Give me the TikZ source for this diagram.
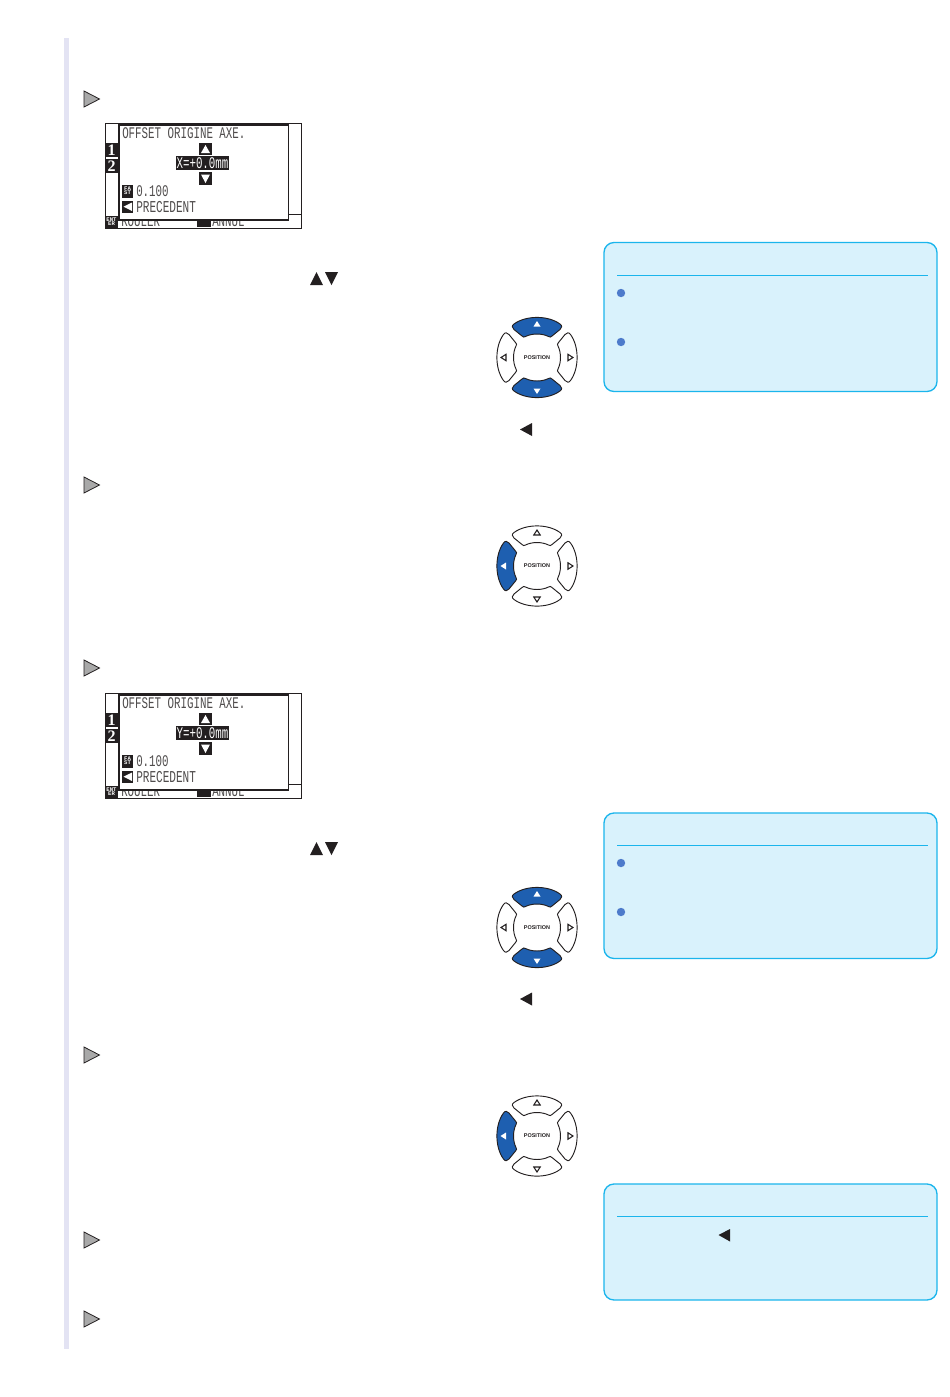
\documentclass[tikz,border=0pt]{standalone}
\usepackage{fontspec}
\setmainfont{Liberation Sans}
\newfontfamily\lcdfont{Liberation Mono}
\newfontfamily\tabfont{Liberation Serif}
\definecolor{barc}{HTML}{E3E3F3}
\definecolor{noteb}{HTML}{D9F2FC}
\definecolor{notel}{HTML}{1BB5EC}
\definecolor{dotc}{HTML}{4D7BCB}
\definecolor{padc}{HTML}{1E5FB0}
\definecolor{markc}{HTML}{A9A9A9}
\definecolor{inkc}{HTML}{231F20}
\tikzset{
  markerarrow/.style={draw=inkc,line width=0.6pt,fill=markc},
  inkfill/.style={fill=inkc,draw=none},
  notebox/.style={draw=notel,line width=1pt,fill=noteb,rounded corners=7.5pt},
  noterule/.style={draw=notel,line width=0.6pt},
  notedot/.style={fill=dotc,draw=none},
  lcdframe/.style={draw=inkc,line width=0.7pt,fill=white},
  lcdtext/.style={anchor=west,inner sep=0pt,text=inkc!80,font=\lcdfont\fontsize{8.1}{9}\selectfont},
  lcdinv/.style={anchor=center,inner sep=0pt,text=white,font=\lcdfont\fontsize{8.1}{9}\selectfont},
  tinyinv/.style={anchor=center,inner sep=0pt,text=white,font=\lcdfont\bfseries\fontsize{4.2}{4.5}\selectfont},
  tabnum/.style={anchor=center,inner sep=0pt,text=white,font=\tabfont\bfseries\fontsize{12}{12}\selectfont},
  padlabel/.style={inner sep=0pt,font=\bfseries\fontsize{4.1}{4.5}\selectfont,text=inkc}
}
\newcommand{\tall}[1]{\scalebox{1}[1.5]{#1}}
\newcommand{\markerat}[2]{\draw[markerarrow] (84,#1-8) -- (99.5,#1) -- (84,#1+8) -- cycle;}
\newcommand{\leftblack}[2]{\fill[inkfill] (#1,#2) -- (#1+12,#2-6.5) -- (#1+12,#2+6.5) -- cycle;}
\newcommand{\updown}[1]{%
  \fill[inkfill] (310,#1+13) -- (316.5,#1) -- (323,#1+13) -- cycle;
  \fill[inkfill] (325,#1) -- (338,#1) -- (331.5,#1+13) -- cycle;}
\newcommand{\padbtn}[2]{%
  \begin{scope}[rotate=#1]
    \draw[draw=inkc,line width=0.7pt,fill=#2,line join=round]
      (-23,-33.5) .. controls (-11,-42.3) and (11,-42.3) .. (23,-33.5)
      .. controls (25.5,-31.7) and (25,-30) .. (23,-28)
      -- (15,-21.5)
      .. controls (13.5,-20) and (13,-20.3) .. (11.5,-21)
      .. controls (5,-24.3) and (-5,-24.3) .. (-11.5,-21)
      .. controls (-13,-20.3) and (-13.5,-20) .. (-15,-21.5)
      -- (-23,-28)
      .. controls (-25,-30) and (-25.5,-31.7) .. (-23,-33.5) -- cycle;
  \end{scope}}
\newcommand{\padtri}[2]{%
  \begin{scope}[rotate=#1]
    \ifnum#2=1
      \fill[white] (-3.5,-31) -- (0,-36.5) -- (3.5,-31) -- cycle;
    \else
      \draw[draw=inkc,line width=0.8pt,fill=white] (-3.2,-31) -- (0,-36) -- (3.2,-31) -- cycle;
    \fi
  \end{scope}}
\newcommand{\posUD}[2]{%
  \begin{scope}[shift={(537,#1)}]
    \padbtn{0}{padc}\padbtn{180}{padc}\padbtn{90}{white}\padbtn{270}{white}
    \padtri{0}{1}\padtri{180}{1}\padtri{90}{0}\padtri{270}{0}
    \node[padlabel] (#2) at (0,0) {POSITION};
  \end{scope}}
\newcommand{\posL}[2]{%
  \begin{scope}[shift={(537,#1)}]
    \padbtn{0}{white}\padbtn{180}{white}\padbtn{90}{padc}\padbtn{270}{white}
    \padtri{0}{0}\padtri{180}{0}\padtri{90}{1}\padtri{270}{0}
    \node[padlabel] (#2) at (0,0) {POSITION};
  \end{scope}}
\newcommand{\lcdscreen}[3]{%
  \begin{scope}[shift={(0,#1)}]
    \draw[lcdframe] (105,123.5) rectangle (301.5,228);
    \draw[draw=inkc,line width=0.5pt] (288,214) -- (301.5,214);
    \begin{scope}
      \clip (105,219) rectangle (301.5,228);
      \node[lcdtext] (#2rouler) at (121,221) {\tall{ROULER}};
      \node[lcdtext] (#2annul) at (212,221) {\tall{ANNUL}};
    \end{scope}
    \fill[inkfill] (197,220) rectangle (211,227);
    \fill[inkfill] (105,216) rectangle (118,228);
    \node[tinyinv] (#2ent) at (111.5,222) {\begin{tabular}{@{}c@{}}ENT\\[-1.6pt]ER\end{tabular}};
    \draw[lcdframe,line width=0.9pt,fill=white] (119,125) rectangle (288.5,220);
    \fill[inkfill] (119,124) rectangle (288.5,126);
    \fill[inkfill] (105,143) rectangle (117.5,157);
    \node[tabnum] (#2one) at (111.5,150) {1};
    \fill[inkfill] (105,159) rectangle (117.5,172.5);
    \node[tabnum] (#2two) at (111.5,165.7) {2};
    \node[lcdtext] (#2title) at (122,133) {\tall{OFFSET ORIGINE AXE.}};
    \fill[inkfill] (199,143) rectangle (212,155);
    \fill[white] (201,153) -- (205.5,145) -- (210,153) -- cycle;
    \fill[inkfill] (176,156) rectangle (229,170);
    \node[lcdinv] (#2value) at (202.5,163) {\tall{#3}};
    \fill[inkfill] (199,172) rectangle (212,185);
    \fill[white] (201,174.5) -- (210,174.5) -- (205.5,183) -- cycle;
    \fill[inkfill] (122,185) rectangle (133,198);
    \node[tinyinv] (#2fast) at (127.5,191.5) {\begin{tabular}{@{}c@{}}FA\\[-1.6pt]ST\end{tabular}};
    \node[lcdtext] (#2step) at (136,191.5) {\tall{0.100}};
    \fill[inkfill] (122,201) rectangle (133,212.5);
    \fill[white] (123.5,206.7) -- (132,202.5) -- (132,211) -- cycle;
    \node[lcdtext,font=\lcdfont\fontsize{8.3}{9}\selectfont] (#2prev) at (136,206.7) {\tall{PRECEDENT}};
  \end{scope}}
\begin{document}
\begin{tikzpicture}[x=0.75pt,y=-0.75pt]
\useasboundingbox (0,0) rectangle (950,1397);
\fill[white] (0,0) rectangle (950,1397);
\fill[barc] (63.5,38) rectangle (69,1349);
\markerat{99}{}
\markerat{485}{}
\markerat{668}{}
\markerat{1055}{}
\markerat{1240}{}
\markerat{1319}{}
\lcdscreen{0}{a}{X=+0.0mm}
\lcdscreen{570}{b}{Y=+0.0mm}
\updown{272}
\updown{842}
\leftblack{520}{429.5}
\leftblack{520}{999}
\posUD{357.5}{pada}
\posL{566}{padb}
\posUD{927.5}{padc}
\posL{1136}{padd}
\draw[notebox] (604,242.5) rectangle (937,391.5);
\draw[noterule] (617,275.5) -- (928,275.5);
\fill[notedot] (621,293) circle (4.2);
\fill[notedot] (621,342) circle (4.2);
\draw[notebox] (604,813) rectangle (937,958.5);
\draw[noterule] (617,845.5) -- (928,845.5);
\fill[notedot] (621,863) circle (4.2);
\fill[notedot] (621,912) circle (4.2);
\draw[notebox] (604,1184) rectangle (937,1300);
\draw[noterule] (617,1216.5) -- (928,1216.5);
\fill[inkfill] (718.5,1235) -- (730,1229) -- (730,1241.5) -- cycle;
\end{tikzpicture}
\end{document}
